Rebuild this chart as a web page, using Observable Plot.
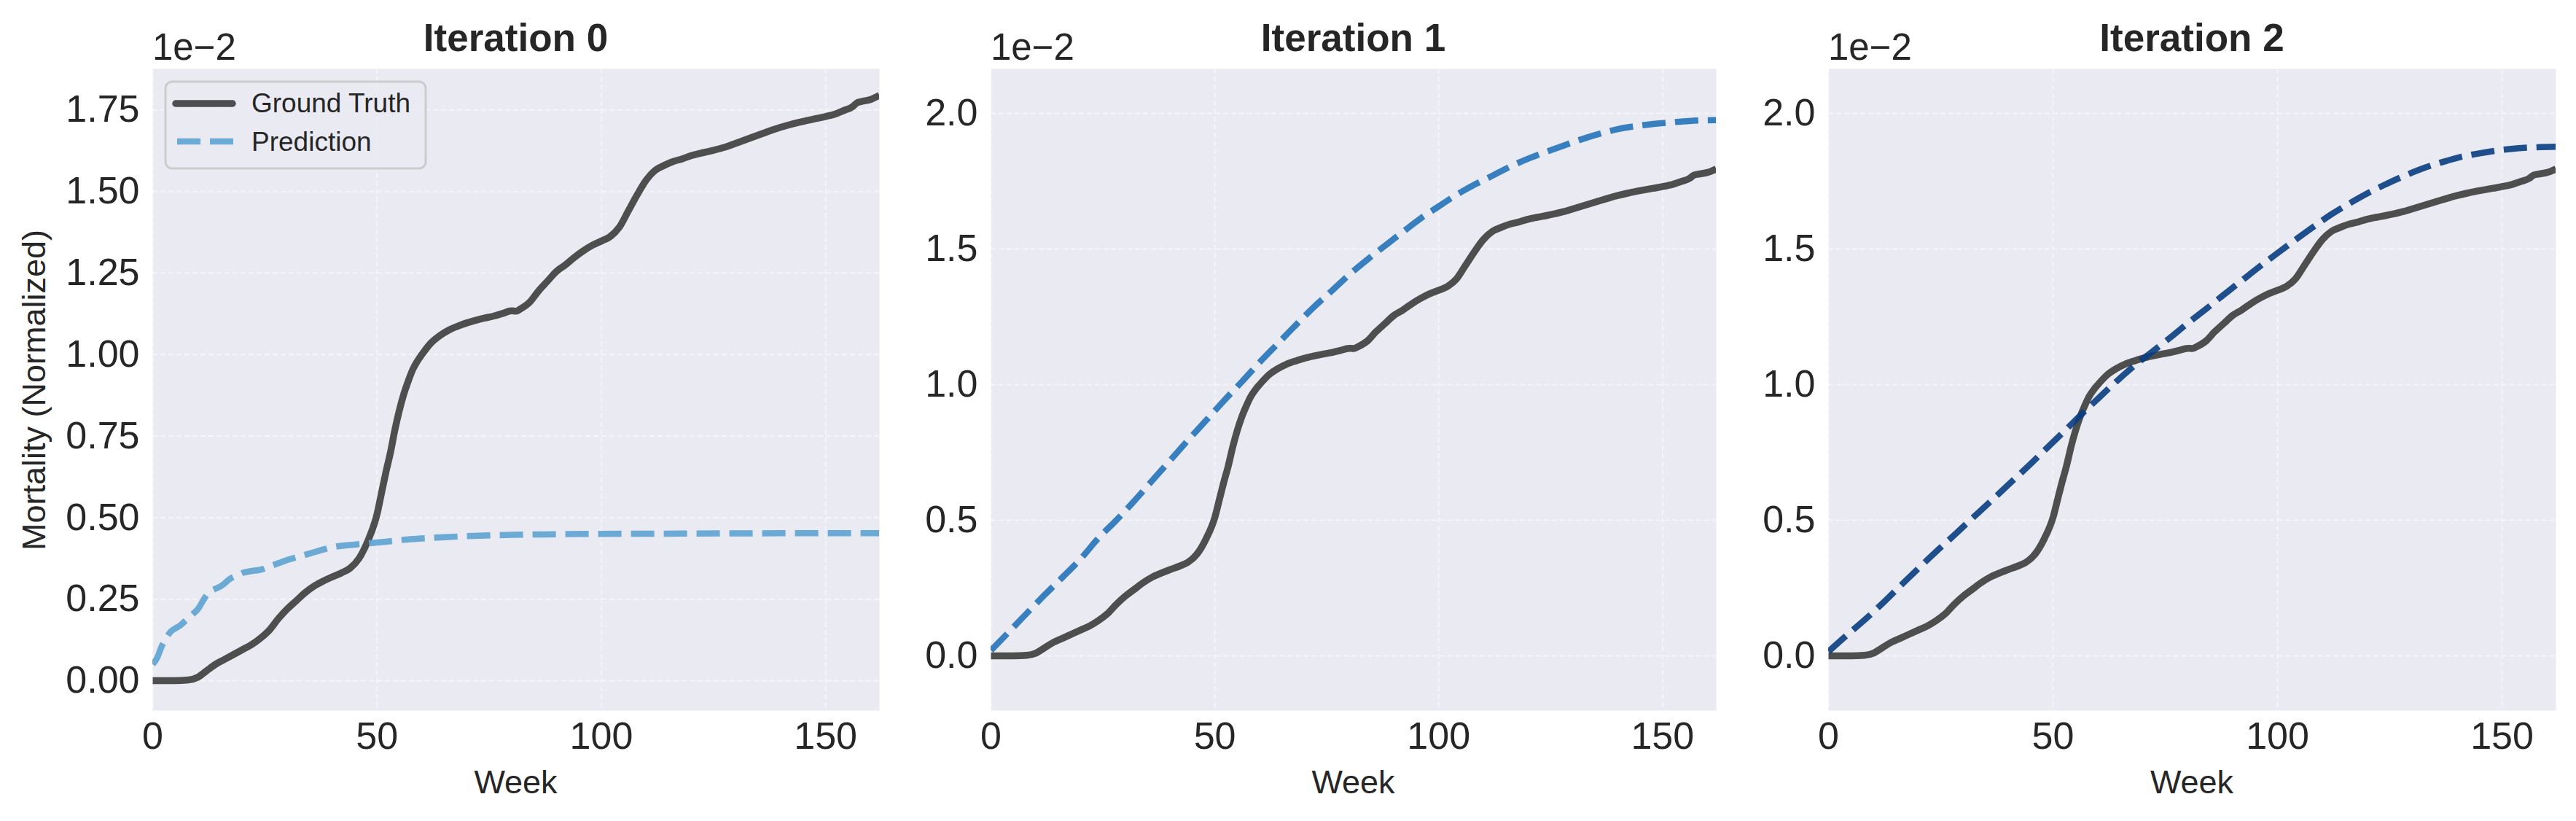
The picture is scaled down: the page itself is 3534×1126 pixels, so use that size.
<!DOCTYPE html>
<html>
<head>
<meta charset="utf-8">
<script src="https://cdn.jsdelivr.net/npm/d3@7"></script>
<script src="https://cdn.jsdelivr.net/npm/@observablehq/plot@0.6"></script>
<style>
  html, body { margin: 0; padding: 0; background: #ffffff; }
  #root { position: relative; width: 3534px; height: 1126px; overflow: hidden;
          font-family: "Liberation Sans", Arial, sans-serif; color: #262626; }
  .panel { position: absolute; top: 0; }
  #overlay { position: absolute; left: 0; top: 0; pointer-events: none; }
</style>
</head>
<body>
<div id="root"></div>
<script>
// ---- data (values in units of 1e-2) ----
const titles = ["Iteration 0", "Iteration 1", "Iteration 2"];
const seriesNames = ["Ground Truth", "Prediction"];
const xTicks = [0, 50, 100, 150];
const yTicksP1 = [0, 0.25, 0.5, 0.75, 1.0, 1.25, 1.5, 1.75];
const yTicksP23 = [0, 0.5, 1.0, 1.5, 2.0];
const offsetLabel = "1e\u22122";
const xLabel = "Week";
const yLabel = "Mortality (Normalized)";

const gtWeeks = [0,5,8,10,12,14,16,18,20,22,24,26,28,30,32,34,36,38,40,42,44,46,48,50,51,52,53,54,55,56,57,58,59,60,62,64,66,68,70,72,74,76,78,80,81,82,84,86,88,90,92,94,96,98,100,102,104,106,108,110,112,114,116,118,120,122,124,126,128,130,132,134,136,138,140,142,144,146,148,150,152,154,156,157,158,160,162];
const gtValues = [0,0,0.002,0.01,0.03,0.05,0.065,0.08,0.095,0.11,0.13,0.155,0.19,0.22,0.245,0.27,0.29,0.305,0.318,0.33,0.345,0.375,0.43,0.51,0.575,0.64,0.70,0.77,0.83,0.88,0.92,0.955,0.98,1.0,1.035,1.058,1.075,1.087,1.097,1.105,1.112,1.118,1.126,1.134,1.133,1.14,1.16,1.195,1.225,1.255,1.275,1.298,1.318,1.335,1.348,1.362,1.39,1.44,1.49,1.535,1.565,1.58,1.592,1.60,1.61,1.617,1.623,1.63,1.638,1.648,1.658,1.668,1.678,1.688,1.697,1.705,1.712,1.718,1.724,1.73,1.737,1.748,1.76,1.772,1.776,1.782,1.795];

const pred0Weeks = [0,1,2,3,4,5,6,7,8,9,10,11,12,13,14,15,16,17,18,19,20,22,24,26,28,30,32,34,36,38,40,44,48,52,56,60,65,70,80,90,100,120,140,162];
const pred0Values = [0.05,0.07,0.105,0.13,0.15,0.16,0.168,0.18,0.192,0.205,0.218,0.24,0.262,0.275,0.282,0.288,0.298,0.31,0.318,0.323,0.33,0.336,0.34,0.35,0.36,0.37,0.378,0.386,0.394,0.402,0.409,0.416,0.421,0.426,0.432,0.436,0.44,0.443,0.447,0.449,0.45,0.451,0.452,0.452];

const pred1Weeks = [0,4,8,12,16,20,24,28,32,36,40,44,48,52,56,60,64,68,72,76,80,84,88,92,96,100,104,108,112,116,120,124,128,132,136,140,144,148,152,156,162];
const pred1Values = [0.02,0.088,0.157,0.225,0.29,0.357,0.434,0.50,0.571,0.646,0.72,0.795,0.867,0.94,1.01,1.082,1.15,1.218,1.284,1.344,1.405,1.46,1.512,1.563,1.613,1.657,1.70,1.737,1.77,1.804,1.833,1.858,1.882,1.905,1.925,1.942,1.953,1.961,1.967,1.972,1.975];

const pred2Weeks = [0,4,8,12,16,20,24,28,32,36,40,44,48,52,56,60,64,68,72,76,80,84,88,92,96,100,104,108,112,116,120,124,128,132,136,140,144,148,152,156,162];
const pred2Values = [0.016,0.075,0.132,0.193,0.258,0.322,0.385,0.445,0.507,0.568,0.63,0.692,0.756,0.82,0.885,0.948,1.01,1.068,1.12,1.172,1.226,1.278,1.331,1.383,1.435,1.485,1.534,1.582,1.628,1.668,1.705,1.738,1.768,1.795,1.817,1.836,1.85,1.861,1.869,1.874,1.877];

const predColors = ["#5ca3d1", "#2373b8", "#083d80"];
const gtColor = "#333333";

// ---- build tables ----
const toRows = (w, v) => w.map((d, i) => ({week: d, value: v[i]}));
const gtRows = toRows(gtWeeks, gtValues);
const predRows = [toRows(pred0Weeks, pred0Values), toRows(pred1Weeks, pred1Values), toRows(pred2Weeks, pred2Values)];

// ---- layout of the three panels (pixels) ----
const panels = [
  {left: 0,    width: 1216, ml: 209, mr: 10, yDomain: [-0.0917, 1.876], yTicks: yTicksP1,  fmt: d3.format(".2f")},
  {left: 1216, width: 1150, ml: 143, mr: 12, yDomain: [-0.2016, 2.164], yTicks: yTicksP23, fmt: d3.format(".1f")},
  {left: 2366, width: 1168, ml: 142, mr: 28, yDomain: [-0.2016, 2.164], yTicks: yTicksP23, fmt: d3.format(".1f")}
];
const H = 1126, MT = 94, MB = 1126 - 974;
const root = document.getElementById("root");

panels.forEach((p, i) => {
  const chart = Plot.plot({
    width: p.width, height: H,
    marginLeft: p.ml, marginRight: p.mr, marginTop: MT, marginBottom: MB,
    style: {fontFamily: "'Liberation Sans', Arial, sans-serif", color: "#262626", background: "transparent", maxWidth: "none", overflow: "visible"},
    x: {domain: [0, 162]},
    y: {domain: p.yDomain},
    marks: [
      Plot.frame({fill: "#eaeaf2", stroke: null}),
      Plot.gridX(xTicks, {stroke: "#ffffff", strokeOpacity: 0.5, strokeWidth: 2, strokeDasharray: "7,4"}),
      Plot.gridY(p.yTicks, {stroke: "#ffffff", strokeOpacity: 0.5, strokeWidth: 2, strokeDasharray: "7,4"}),
      Plot.axisX(xTicks, {tickSize: 0, tickPadding: 16, fontSize: 52, label: null}),
      Plot.axisY(p.yTicks, {tickSize: 0, tickPadding: 18, fontSize: 52, label: null, tickFormat: p.fmt}),
      Plot.line(gtRows, {x: "week", y: "value", stroke: gtColor, strokeOpacity: 0.85, strokeWidth: 9.5, curve: "monotone-x", strokeLinecap: "butt", clip: true}),
      Plot.line(predRows[i], {x: "week", y: "value", stroke: predColors[i], strokeOpacity: 0.9, strokeWidth: 8.5, strokeDasharray: "32,13", strokeLinecap: "butt", curve: "monotone-x", clip: true})
    ]
  });
  const wrap = document.createElement("div");
  wrap.className = "panel";
  wrap.style.left = p.left + "px";
  wrap.appendChild(chart);
  root.appendChild(wrap);
});

// ---- overlay: titles, offset text, axis labels, legend ----
const ns = "http://www.w3.org/2000/svg";
const ov = document.createElementNS(ns, "svg");
ov.setAttribute("id", "overlay");
ov.setAttribute("width", 3534);
ov.setAttribute("height", 1126);
root.appendChild(ov);
function el(tag, attrs, text) {
  const e = document.createElementNS(ns, tag);
  for (const k in attrs) e.setAttribute(k, attrs[k]);
  if (text != null) e.textContent = text;
  ov.appendChild(e);
  return e;
}
const frames = [[209, 1206], [1359, 2354], [2508, 3506]];
frames.forEach(([l, r], i) => {
  el("text", {x: (l + r) / 2, y: 70, "text-anchor": "middle", "font-size": 53, "font-weight": "bold", fill: "#262626", "font-family": "'Liberation Sans', Arial, sans-serif"}, titles[i]);
  el("text", {x: l, y: 82, "font-size": 51, fill: "#262626", "font-family": "'Liberation Sans', Arial, sans-serif"}, offsetLabel);
  el("text", {x: (l + r) / 2, y: 1088, "text-anchor": "middle", "font-size": 45, fill: "#262626", "font-family": "'Liberation Sans', Arial, sans-serif"}, xLabel);
});
el("text", {transform: "translate(62,535) rotate(-90)", "text-anchor": "middle", "font-size": 45, fill: "#262626", "font-family": "'Liberation Sans', Arial, sans-serif"}, yLabel);

// legend (panel 1)
el("rect", {x: 227, y: 112, width: 357, height: 119, rx: 9, fill: "#eaeaf2", "fill-opacity": 0.8, stroke: "#cccccc", "stroke-width": 3});
el("line", {x1: 241, x2: 319, y1: 142, y2: 142, stroke: gtColor, "stroke-opacity": 0.85, "stroke-width": 9.5, "stroke-linecap": "round"});
el("line", {x1: 243, x2: 321, y1: 194, y2: 194, stroke: predColors[0], "stroke-opacity": 0.9, "stroke-width": 8.5, "stroke-dasharray": "32,13"});
el("text", {x: 345, y: 154, "font-size": 37, fill: "#262626", "font-family": "'Liberation Sans', Arial, sans-serif"}, seriesNames[0]);
el("text", {x: 345, y: 207, "font-size": 37, fill: "#262626", "font-family": "'Liberation Sans', Arial, sans-serif"}, seriesNames[1]);
</script>
</body>
</html>
